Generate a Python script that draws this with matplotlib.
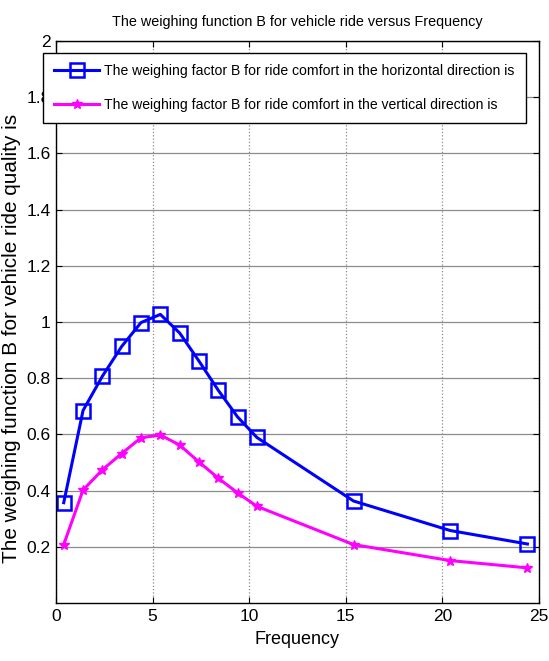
import numpy as np
import matplotlib
matplotlib.use('Agg')
import matplotlib.pyplot as plt

# values
freq = [0.4, 1.4, 2.4, 3.4, 4.4, 5.4, 6.4, 7.4, 8.4, 9.4, 10.4, 15.4, 20.4, 24.4]
b_horizontal = [0.357, 0.685, 0.807, 0.913, 0.998, 1.027, 0.961, 0.861,
                0.757, 0.662, 0.589, 0.363, 0.258, 0.210]
b_vertical = [0.208, 0.402, 0.474, 0.532, 0.588, 0.598, 0.562, 0.502,
              0.444, 0.392, 0.344, 0.208, 0.151, 0.125]
yticks = [0.2, 0.4, 0.6, 0.8, 1.0, 1.2, 1.4, 1.6, 1.8, 2.0]
ytick_labels = ['0.2', '0.4', '0.6', '0.8', '1', '1.2', '1.4', '1.6', '1.8', '2']
xticks = [0, 5, 10, 15, 20, 25]

title = 'The weighing function B for vehicle ride versus Frequency'
ylabel = 'The weighing function B for vehicle ride quality is'
lab_h = 'The weighing factor B for ride comfort in the horizontal direction is'
lab_v = 'The weighing factor B for ride comfort in the vertical direction is'

plt.rcParams['font.family'] = ['Liberation Sans', 'DejaVu Sans']

W, H = 549, 661
fig = plt.figure(figsize=(W / 100, H / 100), dpi=100)
renderer = fig.canvas.get_renderer()


def fit_size(s, target_px, size=12, rotation=0):
    # font size that makes text s span target_px pixels along its length
    t = fig.text(0, 0, s, fontsize=size, rotation=rotation)
    bb = t.get_window_extent(renderer)
    t.remove()
    length = bb.height if rotation else bb.width
    return size * target_px / length


title_fs = fit_size(title, 370)
legend_fs = fit_size(lab_h, 410)
ylabel_fs = fit_size(ylabel, 450, rotation=90)

ax = fig.add_axes([56 / W, 1 - 603 / H, 483 / W, 562 / H])

ax.plot(freq, b_horizontal, color='#0000ff', lw=2.2, marker='s', ms=10,
        mfc='none', mec='#0000ff', mew=1.8, label=lab_h)
ax.plot(freq, b_vertical, color='#ff00ff', lw=2.2, marker='*', ms=7,
        mfc='#ff00ff', mec='#ff00ff', mew=1.0, label=lab_v)

ax.set_xlim(0, 25)
ax.set_ylim(0, 2)
ax.set_xticks(xticks)
ax.set_yticks(yticks)
ax.set_yticklabels(ytick_labels)
ax.tick_params(direction='in', top=True, right=True, labelsize=12.5,
               length=4, pad=4)

ax.yaxis.grid(True, color='#8c8c8c', lw=0.9, ls='-')
ax.xaxis.grid(True, color='#8c8c8c', lw=0.9, ls=':')
ax.set_axisbelow(True)
for s in ax.spines.values():
    s.set_linewidth(1.0)

ax.set_title(title, fontsize=title_fs, pad=11)
ax.set_xlabel('Frequency', fontsize=13, labelpad=5)
ax.set_ylabel(ylabel, fontsize=ylabel_fs)
ax.yaxis.set_label_coords(-0.072, 0.47)

em = legend_fs * 100 / 72
leg = ax.legend(loc='upper left', bbox_to_anchor=(43 / W, 1 - 53 / H),
                bbox_transform=fig.transFigure, fontsize=legend_fs,
                fancybox=False, framealpha=1, edgecolor='black',
                handlelength=45 / em, handletextpad=5 / em,
                borderpad=0.8, labelspacing=1.4, borderaxespad=0)
leg.get_frame().set_linewidth(1.0)

fig.savefig('out.png', dpi=100)
